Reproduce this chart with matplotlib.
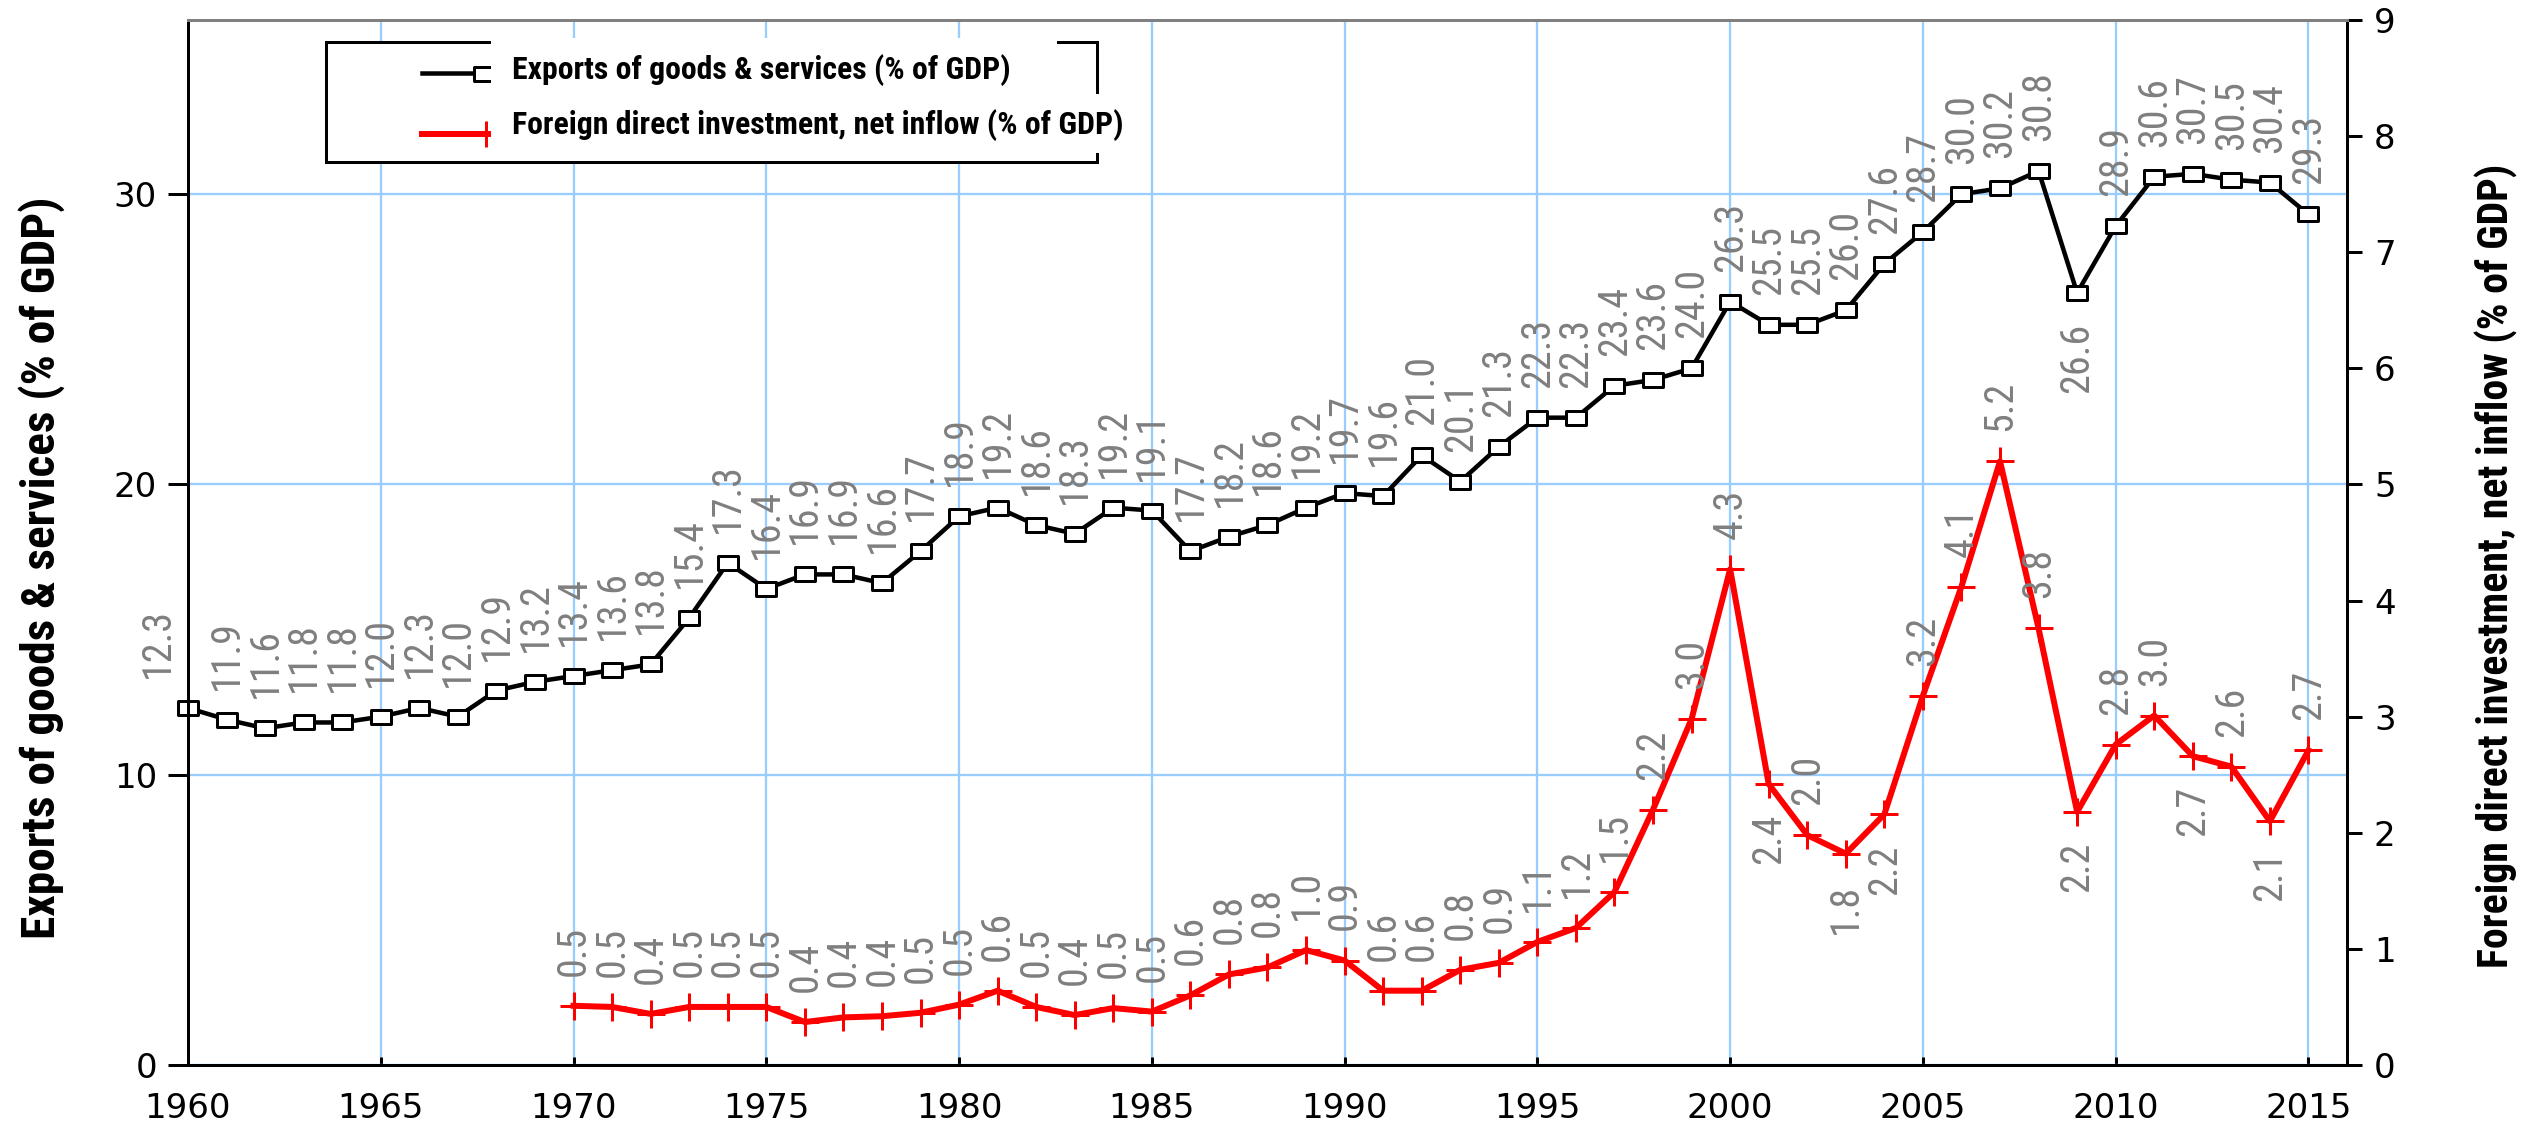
#!/usr/bin/env python3
"""Exports vs FDI net inflow (% of GDP), 1960-2015."""
import matplotlib
matplotlib.use("Agg")
import matplotlib.pyplot as plt
from matplotlib import font_manager
from matplotlib.font_manager import FontProperties
from matplotlib.path import Path
from matplotlib.patches import Rectangle
from matplotlib.lines import Line2D

years = list(range(1960, 2016))
exports = [12.3, 11.9, 11.6, 11.8, 11.8, 12.0, 12.3, 12.0, 12.9, 13.2,
           13.4, 13.6, 13.8, 15.4, 17.3, 16.4, 16.9, 16.9, 16.6, 17.7,
           18.9, 19.2, 18.6, 18.3, 19.2, 19.1, 17.7, 18.2, 18.6, 19.2,
           19.7, 19.6, 21.0, 20.1, 21.3, 22.3, 22.3, 23.4, 23.6, 24.0,
           26.3, 25.5, 25.5, 26.0, 27.6, 28.7, 30.0, 30.2, 30.8, 26.6,
           28.9, 30.6, 30.7, 30.5, 30.4, 29.3]

fdi_years = list(range(1970, 2016))
fdi = [0.51, 0.5, 0.44, 0.5, 0.5, 0.5, 0.37, 0.41, 0.42, 0.45,
       0.52, 0.64, 0.5, 0.43, 0.49, 0.46, 0.6, 0.78, 0.84, 0.99,
       0.9, 0.64, 0.64, 0.82, 0.88, 1.06, 1.18, 1.49, 2.2, 2.98,
       4.27, 2.42, 1.98, 1.82, 2.16, 3.18, 4.12, 5.2, 3.76, 2.18,
       2.76, 3.01, 2.66, 2.57, 2.1, 2.71]

# labels drawn under the point instead of above
exports_below = {2009}
fdi_below = {2001, 2003, 2004, 2009, 2012, 2014}
# first label sits left of the y axis in the original
label_shift_px = {1960: -31}

W, H = 2522, 1124
PX = 0.72  # points per pixel at dpi 100

STRETCH = {"ultra-condensed": 100, "extra-condensed": 200, "condensed": 300,
           "semi-condensed": 400, "normal": 500}
WEIGHT = {"normal": 400, "regular": 400, "book": 400, "medium": 500,
          "semibold": 600, "demibold": 600, "bold": 700}
FAMILY_RANK = ["Liberation Sans Narrow", "Arial Narrow", "Roboto Condensed",
               "Noto Sans", "Open Sans", "DejaVu Sans", "Roboto"]


def pick_font(bold):
    """Find a narrow/condensed sans file; the reference uses a narrow face."""
    best, best_key = None, None
    for f in font_manager.fontManager.ttflist:
        if f.style != "normal":
            continue
        w = f.weight if isinstance(f.weight, int) else WEIGHT.get(str(f.weight).lower(), 400)
        s = f.stretch if isinstance(f.stretch, int) else STRETCH.get(str(f.stretch).lower(), 500)
        lname = f.name.lower()
        if "narrow" in lname or "condensed" in lname:
            s = min(s, 300)
        if s >= 500:
            continue
        base = next((i for i, fam in enumerate(FAMILY_RANK)
                     if lname.startswith(fam.lower())), len(FAMILY_RANK))
        key = (abs(w - (700 if bold else 400)), abs(s - 300), base)
        if best_key is None or key < best_key:
            best, best_key = f.fname, key
    if best is None:
        best = font_manager.findfont(FontProperties(
            family="DejaVu Sans", weight="bold" if bold else "normal"))
    return best


REG_FILE = pick_font(False)
BOLD_FILE = pick_font(True)

plt.rcParams["font.family"] = ["DejaVu Sans"]

fig = plt.figure(figsize=(W / 100, H / 100), dpi=100)
renderer = fig.canvas.get_renderer()


def fitted(fname, text, target_px):
    probe = fig.text(0, 0, text, fontproperties=FontProperties(fname=fname, size=20))
    width = probe.get_window_extent(renderer).width
    probe.remove()
    return FontProperties(fname=fname, size=20 * target_px / width)


label_fp = fitted(REG_FILE, "26.3", 70)
ylab_left_fp = fitted(BOLD_FILE, "Exports of goods & services (% of GDP)", 742)
ylab_right_fp = fitted(BOLD_FILE, "Foreign direct investment, net inflow (% of GDP)", 801)
legend_fp = fitted(BOLD_FILE, "Exports of goods & services (% of GDP)", 498)

ax = fig.add_axes([188 / W, 59 / H, 2159 / W, 1045 / H])
ax2 = ax.twinx()

grid_color = "#99ccff"
ax.set_xlim(1960, 2016)
ax.set_ylim(0, 36)
ax2.set_ylim(0, 9)

ax.set_xticks(range(1960, 2016, 5))
ax.set_yticks([0, 10, 20, 30])
ax2.set_yticks(range(0, 10))
ax.grid(True, color=grid_color, linewidth=2.3 * PX)
ax.set_axisbelow(True)

for a in (ax, ax2):
    for side in ("left", "bottom", "right"):
        a.spines[side].set_linewidth(3 * PX)
        a.spines[side].set_color("black")
    a.spines["top"].set_color("#808080")
    a.spines["top"].set_linewidth(3 * PX)

ax.tick_params(axis="x", direction="in", length=8 * PX, width=3 * PX,
               labelsize=24.5, pad=27 * PX)
ax.tick_params(axis="y", direction="out", length=20 * PX, width=3 * PX,
               labelsize=24.5, pad=11 * PX)
ax2.tick_params(axis="y", direction="out", length=15 * PX, width=3 * PX,
                labelsize=24.5, pad=12 * PX)

rect = Path([(-1, -0.7), (1, -0.7), (1, 0.7), (-1, 0.7), (-1, -0.7)],
            [Path.MOVETO, Path.LINETO, Path.LINETO, Path.LINETO, Path.CLOSEPOLY])

ax.plot(years, exports, color="black", linewidth=4.5 * PX, marker=rect,
        markersize=20 * PX, markerfacecolor="white", markeredgecolor="black",
        markeredgewidth=3 * PX, clip_on=False, zorder=3)
ax2.plot(fdi_years, fdi, color="red", linewidth=6 * PX, marker="+",
         markersize=28 * PX, markeredgewidth=3 * PX, clip_on=False, zorder=3)

for axis, xs, vs, below_set in ((ax, years, exports, exports_below),
                                (ax2, fdi_years, fdi, fdi_below)):
    for x, v in zip(xs, vs):
        below = x in below_set
        dx = label_shift_px.get(x, 0) if axis is ax else 0
        axis.annotate(f"{v:.1f}", (x, v),
                      xytext=(dx * PX, -30 * PX if below else 30 * PX),
                      textcoords="offset points", ha="center",
                      va="top" if below else "bottom", rotation=90,
                      color="#7f7f7f", fontproperties=label_fp)

ax.set_ylabel("Exports of goods & services (% of GDP)",
              fontproperties=ylab_left_fp, va="center")
ax.yaxis.set_label_coords((42 - 188) / 2159, (1065 - 568) / 1045)
ax2.set_ylabel("Foreign direct investment, net inflow (% of GDP)",
               fontproperties=ylab_right_fp, rotation=90, va="center")
ax2.yaxis.set_label_coords((2496 - 188) / 2159, (1065 - 566) / 1045)


# legend, built by hand in figure pixels
def fx(x):
    return x / W


def fy(y):
    return 1 - y / H


tf = fig.transFigure
fig.add_artist(Rectangle((fx(326), fy(162)), (1097 - 326) / W, 120 / H,
                         facecolor="white", edgecolor="black",
                         linewidth=3 * PX, transform=tf, zorder=5))
fig.add_artist(Line2D([fx(422), fx(490)], [fy(73), fy(73)], color="black",
                      linewidth=4.5 * PX, transform=tf, zorder=6))
fig.add_artist(Line2D([fx(484)], [fy(74)], marker=rect, markersize=20 * PX,
                      markerfacecolor="white", markeredgecolor="black",
                      markeredgewidth=3 * PX, transform=tf, zorder=6))
fig.add_artist(Line2D([fx(422), fx(490)], [fy(134), fy(134)], color="red",
                      linewidth=6 * PX, transform=tf, zorder=6))
fig.add_artist(Line2D([fx(486)], [fy(134)], marker="+", color="red",
                      markersize=26 * PX, markeredgewidth=3 * PX,
                      transform=tf, zorder=6))
fig.add_artist(Rectangle((fx(491), fy(94)), (1057 - 491) / W, 56 / H,
                         facecolor="white", edgecolor="none",
                         transform=tf, zorder=7))
fig.add_artist(Rectangle((fx(491), fy(153)), (1102 - 491) / W, 59 / H,
                         facecolor="white", edgecolor="none",
                         transform=tf, zorder=7))
fig.text(fx(512), fy(70), "Exports of goods & services (% of GDP)",
         fontproperties=legend_fp, va="center", ha="left", zorder=8)
fig.text(fx(512), fy(125), "Foreign direct investment, net inflow (% of GDP)",
         fontproperties=legend_fp, va="center", ha="left", zorder=8)

fig.savefig("out.png", dpi=100)
